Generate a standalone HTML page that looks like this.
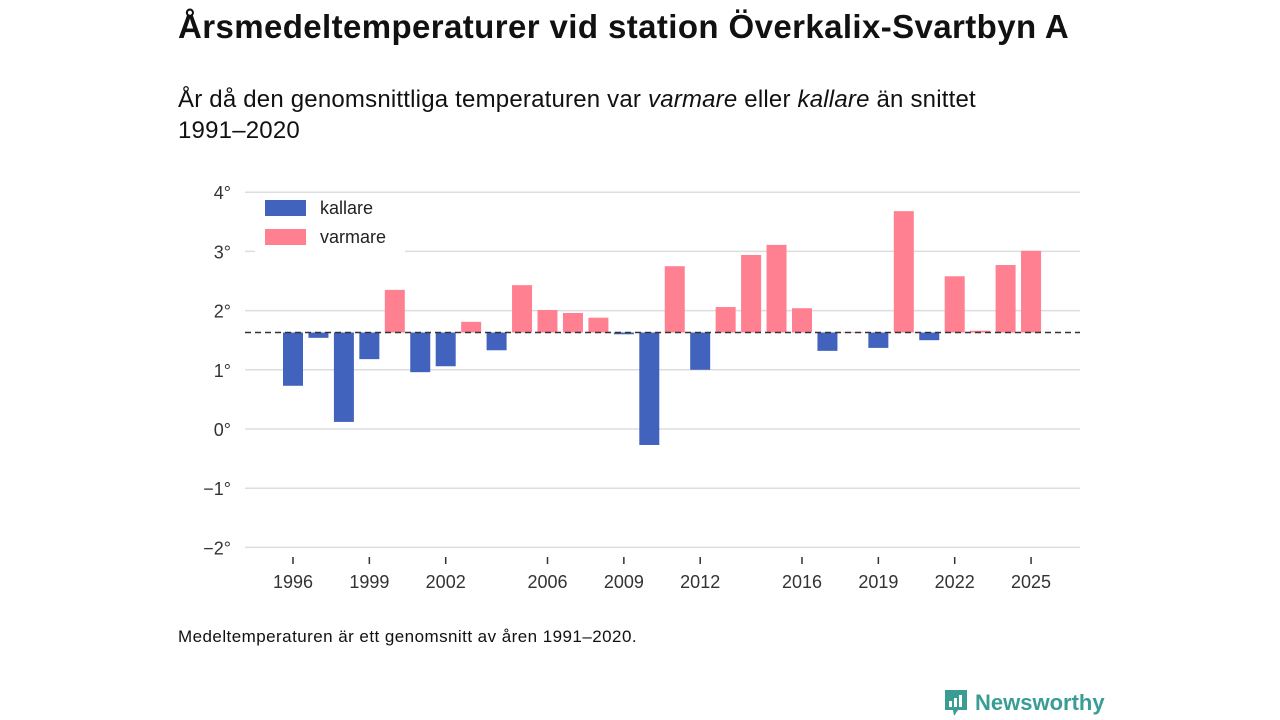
<!DOCTYPE html>
<html><head><meta charset="utf-8"><style>
body{margin:0;width:1280px;height:720px;background:#fff;font-family:"Liberation Sans",sans-serif;color:#111;position:relative;overflow:hidden}
.t{position:absolute;left:178px;top:8px;font-size:33px;font-weight:bold;letter-spacing:0.4px;white-space:nowrap}
.s{position:absolute;left:178px;top:84px;font-size:24px;line-height:31px;width:920px;letter-spacing:0.2px}
.n{position:absolute;left:178px;top:627px;font-size:17px;letter-spacing:0.45px}
.logo{position:absolute;left:943px;top:688px;display:flex;align-items:center;color:#3a9d94;font-size:22px;font-weight:bold}
</style></head><body>
<div class="t">Årsmedeltemperaturer vid station Överkalix-Svartbyn A</div>
<div class="s">År då den genomsnittliga temperaturen var <i>varmare</i> eller <i>kallare</i> än snittet<br>1991–2020</div>
<svg id="c" width="1280" height="720" style="position:absolute;left:0;top:0"></svg>
<div class="n">Medeltemperaturen är ett genomsnitt av åren 1991–2020.</div>
<div class="logo"><svg width="26" height="30" viewBox="0 0 26 30"><path d="M2 2h22v20H15l-4 6-1-6H2z" fill="#3a9d94"/><rect x="6" y="13" width="3" height="6" fill="#fff"/><rect x="11" y="10" width="3" height="9" fill="#fff"/><rect x="16" y="7" width="3" height="12" fill="#fff"/></svg><span style="margin-left:6px">Newsworthy</span></div>
<script>
const years=[1996,1997,1998,1999,2000,2001,2002,2003,2004,2005,2006,2007,2008,2009,2010,2011,2012,2013,2014,2015,2016,2017,2018,2019,2020,2021,2022,2023,2024,2025];
const temps=[0.73,1.54,0.12,1.18,2.35,0.96,1.06,1.81,1.33,2.43,2.01,1.96,1.88,1.60,-0.27,2.75,1.0,2.06,2.94,3.11,2.04,1.32,1.64,1.37,3.68,1.5,2.58,1.66,2.77,3.01];
const avg=1.63;
const yTicks=[-2,-1,0,1,2,3,4];
const xTicks=[1996,1999,2002,2006,2009,2012,2016,2019,2022,2025];
const svg=document.getElementById('c');const NS='http://www.w3.org/2000/svg';
const X=y=>293+(y-1996)*25.45;const Y=v=>429-v*59.2;
function mk(t,a,txt){const e=document.createElementNS(NS,t);for(const k in a)e.setAttribute(k,a[k]);if(txt!=null)e.textContent=txt;svg.appendChild(e);return e;}
yTicks.forEach(v=>{const l=mk('line',{x1:245,x2:1080,y1:Y(v),y2:Y(v),stroke:'#ddd','stroke-width':1.5});


const t=mk('text',{x:231,y:Y(v)+7,'text-anchor':'end','font-size':18,fill:'#333','font-family':'Liberation Sans'},(v<0?'−'+(-v):v)+'°');

});
xTicks.forEach(y=>{const l=mk('line',{x1:X(y),x2:X(y),y1:557,y2:564,stroke:'#333','stroke-width':1.5});


const t=mk('text',{x:X(y),y:588,'text-anchor':'middle','font-size':18,fill:'#333','font-family':'Liberation Sans'},y);

});
years.forEach((y,i)=>{const v=temps[i];const top=Math.min(Y(v),Y(avg)),h=Math.abs(Y(v)-Y(avg));
const r=mk('rect',{x:X(y)-10,y:top,width:20,height:h,fill:v<avg?'#4163be':'#ff8090'});

});
const d=mk('line',{x1:245,x2:1080,y1:Y(avg),y2:Y(avg),stroke:'#333','stroke-width':1.5,'stroke-dasharray':'6,4'});


const lb=mk('rect',{x:255,y:193,width:150,height:60,fill:'#fff'});


[['kallare','#4163be',208],['varmare','#ff8090',237]].forEach(([n,c,yy])=>{
const r=mk('rect',{x:265,y:yy-8,width:41,height:16,fill:c});


const t=mk('text',{x:320,y:yy+6,'font-size':18,fill:'#222','font-family':'Liberation Sans'},n);

});
</script>
</body></html>
